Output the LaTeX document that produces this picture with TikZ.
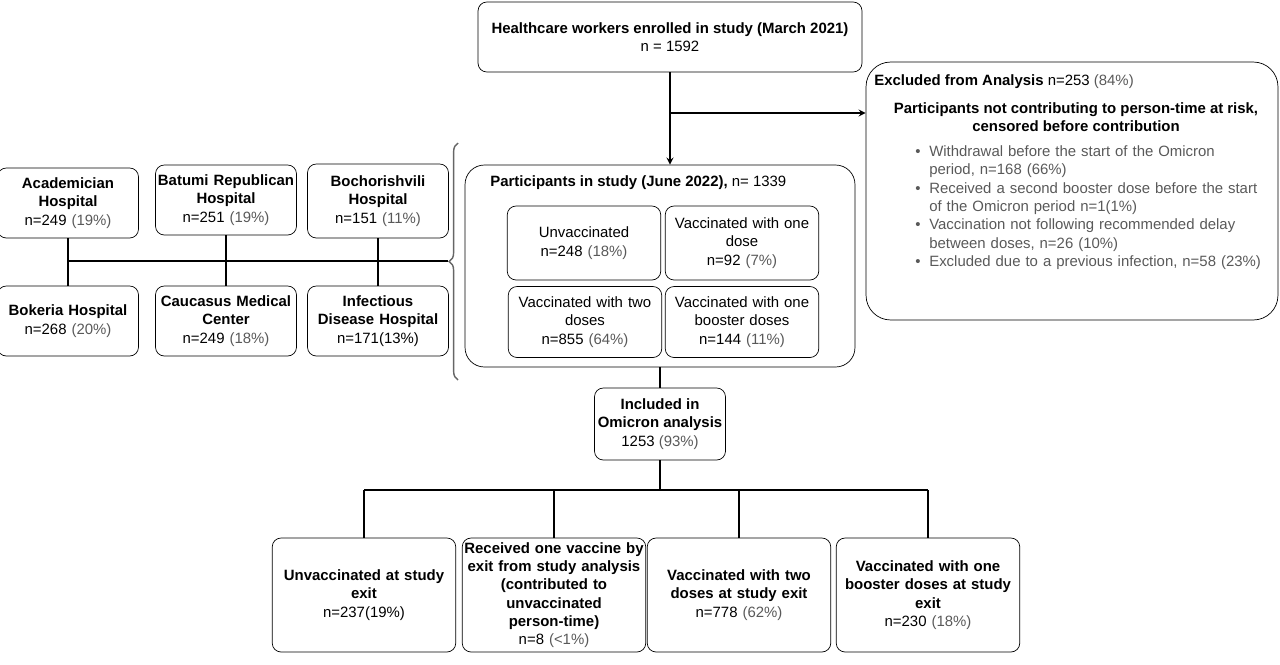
\documentclass[tikz,border=0pt]{standalone}
\usepackage{fontspec}
\setmainfont{Liberation Sans}
\usepackage{tikz}
\usetikzlibrary{positioning,calc,decorations.pathreplacing}
\definecolor{pct}{gray}{0.35}

\begin{document}
\begin{tikzpicture}[
    x=0.02cm, y=-0.02cm,
    font=\fontsize{8.5}{10.4}\selectfont,
    box/.style={rectangle, draw, rounded corners=5pt, align=center, inner sep=1pt},
    hosp/.style={box, minimum width=2.66cm, minimum height=1.4cm, text width=2.75cm},
    vacc/.style={box, minimum width=3.05cm, minimum height=1.48cm, text width=3cm},
    exitbox/.style={box, minimum width=3.55cm, minimum height=2.28cm, text width=3.6cm},
    line/.style={draw, thick},
    arrow/.style={->, thick, >=stealth},
]
    \useasboundingbox (0,0) rectangle (1280,664);

    % top and exclusion
    \node[box, minimum width=7.68cm, minimum height=1.4cm] (enrolled) at (670,37) {\textbf{Healthcare workers enrolled in study (March 2021)}\\n = 1592};
    \node[box, rounded corners=14pt, minimum width=8.24cm, minimum height=5.16cm] (excluded) at (1072,191) {};
    \node[anchor=north west, inner sep=0pt] (exctitle) at (874,74) {\textbf{Excluded from Analysis} n=253 {\color{pct}(84\%)}};
    \node[align=center, inner sep=0pt, anchor=north] (excsub) at (1076,102) {\textbf{Participants not contributing to person-time at risk,}\\\textbf{censored before contribution}};
    \node[anchor=north west, inner sep=0pt, text width=7.6cm, text=pct] (excitems) at (885,124) {%
      \begin{itemize}\setlength{\itemsep}{0pt}\setlength{\parskip}{0pt}\setlength{\leftmargin}{12pt}
        \item Withdrawal before the start of the Omicron period, n=168 (66\%)
        \item Received a second booster dose before the start of the Omicron period n=1(1\%)
        \item Vaccination not following recommended delay between doses, n=26 (10\%)
        \item Excluded due to a previous infection, n=58 (23\%)
      \end{itemize}};

    % participants
    \node[box, rounded corners=11pt, minimum width=7.8cm, minimum height=4.04cm] (participants) at (660,266) {};
    \node[anchor=west, inner sep=0pt] (parttitle) at (490,183) {\textbf{Participants in study (June 2022),} n= 1339};
    \node[vacc] (unvacc) at (584,243) {Unvaccinated\\n=248 {\color{pct}(18\%)}};
    \node[vacc] (onedose) at (742,243) {Vaccinated with one\\dose\\n=92 {\color{pct}(7\%)}};
    \node[vacc, minimum height=1.42cm] (twodose) at (585,322) {Vaccinated with two\\doses\\n=855 {\color{pct}(64\%)}};
    \node[vacc, minimum height=1.42cm] (booster) at (742,322) {Vaccinated with one\\booster doses\\n=144 {\color{pct}(11\%)}};

    % hospitals
    \node[hosp] (academ) at (68,203) {\textbf{Academician}\\\textbf{Hospital}\\n=249 {\color{pct}(19\%)}};
    \node[hosp] (batumi) at (226,200) {\textbf{Batumi Republican}\\\textbf{Hospital}\\n=251 {\color{pct}(19\%)}};
    \node[hosp, minimum height=1.48cm] (bochor) at (378,201) {\textbf{Bochorishvili}\\\textbf{Hospital}\\n=151 {\color{pct}(11\%)}};
    \node[hosp] (bokeria) at (68,321) {\textbf{Bokeria Hospital}\\n=268 {\color{pct}(20\%)}};
    \node[hosp] (caucasus) at (226,321) {\textbf{Caucasus Medical}\\\textbf{Center}\\n=249 {\color{pct}(18\%)}};
    \node[hosp] (infect) at (378,321) {\textbf{Infectious}\\\textbf{Disease Hospital}\\n=171(13\%)};
    \coordinate (hleft) at (68,261);
    \coordinate (hright) at (448,261);
    \draw[thick] (hleft) -- (hright);
    \draw[thick] (academ) -- (bokeria);
    \draw[thick] (batumi) -- (caucasus);
    \draw[thick] (bochor) -- (infect);
    \coordinate (bracelo) at (458,380);
    \coordinate (bracehi) at (458,143);
    \draw[thick, gray!80!black, decoration={brace, amplitude=5pt}, decorate] (bracelo) -- (bracehi);

    % flow
    \coordinate (branch) at (enrolled.south |- 0,113);
    \draw[arrow] (enrolled.south) -- (participants.north -| enrolled.south);
    \draw[arrow] (branch) -- (excluded.west |- branch);

    \node[box, minimum width=2.62cm, minimum height=1.44cm] (included) at (660,424) {\textbf{Included in}\\\textbf{Omicron analysis}\\1253 {\color{pct}(93\%)}};
    \draw[thick] (participants.south -| included) -- (included);

    \node[exitbox] (exunvacc) at (364,595) {\textbf{Unvaccinated at study}\\\textbf{exit}\\n=237(19\%)};
    \node[exitbox, minimum width=3.64cm] (exone) at (554,595) {\textbf{Received one vaccine by}\\\textbf{exit from study analysis}\\\textbf{(contributed to}\\\textbf{unvaccinated person-time)}\\n=8 {\color{pct}(<1\%)}};
    \node[exitbox, minimum width=3.46cm] (extwo) at (739,595) {\textbf{Vaccinated with two}\\\textbf{doses at study exit}\\n=778 {\color{pct}(62\%)}};
    \node[exitbox, minimum width=3.5cm] (exboost) at (928,595) {\textbf{Vaccinated with one}\\\textbf{booster doses at study}\\\textbf{exit}\\n=230 {\color{pct}(18\%)}};
    \coordinate (split) at (660,490);
    \draw[thick] (included) -- (split);
    \draw[thick] (exunvacc.north |- split) -- (exboost.north |- split);
    \foreach \n in {exunvacc, exone, extwo, exboost}
        \draw[thick] (\n.north |- split) -- (\n.north);
\end{tikzpicture}
\end{document}
